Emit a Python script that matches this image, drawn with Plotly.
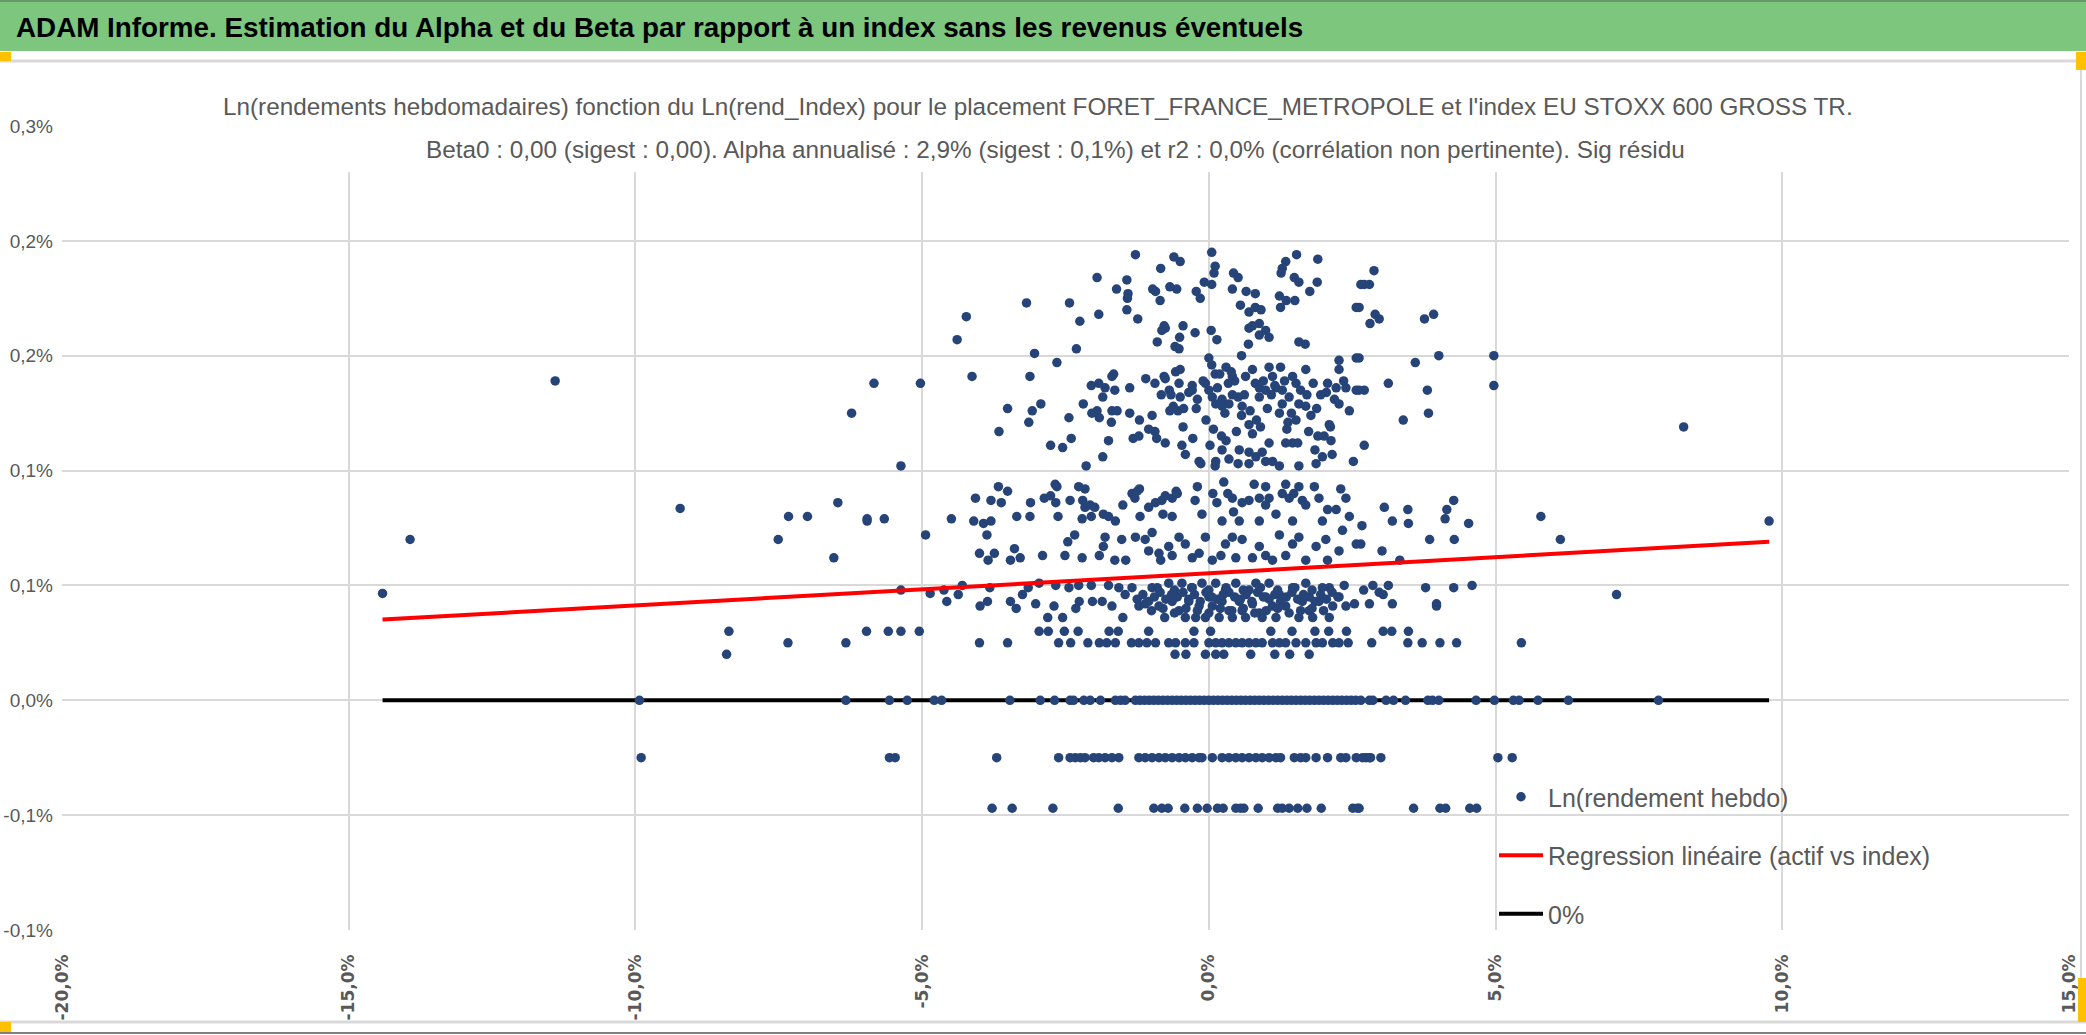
import plotly.graph_objects as go

# ---- data (values in %) ----
# diffuse cloud, upper part (~0.15% - 0.20%)
upper_x = [-1.28, -0.61, -0.50, 0.05, 0.11, 0.09, 1.53, 1.90, 1.34, 1.28, 1.26, -0.84, -1.95, -1.43,
           -1.61, -1.41, -1.42, -0.98, -0.93, -0.68, -0.56, -0.08, 0.05, -0.22, -0.15, 0.41, 0.43,
           0.51, 0.65, 0.81, 1.49, 1.57, 1.89, 1.76, 1.23, 1.35, 1.50, 1.25, 2.57, -0.85, 0.55, 0.70,
           0.81, 0.91, -3.18, -2.43, -2.25, -1.92, -1.43, -1.24, -4.23, -4.39, -3.04, -2.31, -0.78,
           -0.76, -0.82, -0.45, -0.51, -0.24, 0.04, 0.14, -0.90, -0.59, -0.52, 0.70, 0.76, 0.88, 0.99,
           0.88, 1.05, 1.57, 1.68, 0.69, 0.57]
upper_y = [0.194, 0.193, 0.191, 0.195, 0.189, 0.186, 0.194, 0.192, 0.191, 0.188, 0.186, 0.188, 0.184,
           0.183, 0.179, 0.177, 0.175, 0.179, 0.178, 0.180, 0.179, 0.182, 0.181, 0.178, 0.175, 0.179,
           0.186, 0.184, 0.178, 0.177, 0.184, 0.182, 0.182, 0.178, 0.176, 0.174, 0.174, 0.171, 0.171,
           0.174, 0.172, 0.169, 0.171, 0.170, 0.173, 0.173, 0.165, 0.168, 0.170, 0.166, 0.167, 0.157,
           0.151, 0.153, 0.163, 0.162, 0.161, 0.163, 0.158, 0.160, 0.161, 0.157, 0.156, 0.154, 0.153,
           0.162, 0.163, 0.164, 0.161, 0.159, 0.158, 0.156, 0.155, 0.155, 0.150]

# diffuse cloud, middle part (~0.10% - 0.15%)
mid_x = [-4.13, -3.12, -2.65, -3.51, -3.08, -2.93, -3.14, -3.66, -2.76, -2.55, -2.40, -2.44, -2.19,
         -2.14, -1.85, -1.75, -1.70, -2.05, -1.92, -1.81, -1.69, -1.66, -1.85, -1.64, -2.04, -1.95,
         -1.91, -1.69, -1.60, -1.38, -1.38, -1.21, -1.32, -1.22, -0.99, -0.94, -0.91, -0.76, -1.10,
         -0.94, -0.78, -0.76, -0.69, -0.83, -0.66, -0.58, -0.50, -0.52, -0.50, -0.68, -0.54, -0.44,
         -0.29, -0.29, -0.20, -0.28, -0.47, -0.41, -0.17, -0.14, -0.05, 0.00, 0.05, 0.11, -0.06,
         0.00, 0.06, 0.12, 0.02, 0.12, 0.11, 0.22, 0.30, 0.23, 0.19, 0.30, 0.39, 0.41, 0.34, 0.23,
         0.23, 0.35, 0.41, 0.51, 0.58, 0.57, 0.70, 0.76, 0.83, 0.64, 0.76, 0.81, 0.88, 1.05, 1.11,
         1.25, 0.88, 0.99, 1.09, 1.17, 1.28, 1.40, 1.46, 1.52, 1.69, 1.71, 1.57, 1.28, 1.23, 1.38,
         1.52, 1.69, 1.78, 1.95, 2.07, 2.22, 2.39, 2.27, 2.27, 2.57, 2.57, 2.19, 2.27, 2.10, 1.90,
         2.01, 2.13, 1.85, 1.98, 2.15, 1.87, 1.34, 1.46, 1.55, 1.05, 0.35, 0.53, 0.51, 0.70, 0.70,
         0.82, 0.93, 0.99, 1.11, 1.23, 1.57, 2.52, 2.62,
         -0.35, -0.10, 0.15, 0.45, 0.62, 0.95, 1.15, 1.32, 1.60, 1.82, 2.05, 2.35, -0.62, -0.22,
         0.28, 0.72, 1.02, 1.44, 1.88, 2.45, -1.05, -0.45, 0.08, 0.48, 0.90, 1.36, 1.74, 2.12]
mid_y = [0.141, 0.141, 0.147, 0.127, 0.126, 0.129, 0.121, 0.117, 0.111, 0.110, 0.114, 0.123, 0.129,
         0.102, 0.106, 0.113, 0.121, 0.137, 0.138, 0.136, 0.141, 0.142, 0.132, 0.135, 0.125, 0.126,
         0.123, 0.126, 0.126, 0.136, 0.125, 0.122, 0.114, 0.115, 0.124, 0.117, 0.114, 0.112, 0.140,
         0.138, 0.141, 0.140, 0.135, 0.133, 0.133, 0.143, 0.144, 0.138, 0.132, 0.126, 0.126, 0.127,
         0.135, 0.137, 0.131, 0.114, 0.111, 0.107, 0.104, 0.103, 0.122, 0.149, 0.146, 0.142, 0.138,
         0.135, 0.132, 0.129, 0.111, 0.104, 0.102, 0.115, 0.113, 0.109, 0.142, 0.145, 0.143, 0.141,
         0.138, 0.131, 0.128, 0.129, 0.133, 0.132, 0.128, 0.124, 0.120, 0.116, 0.122, 0.141, 0.144,
         0.138, 0.136, 0.145, 0.141, 0.145, 0.132, 0.135, 0.133, 0.136, 0.135, 0.132, 0.141, 0.138,
         0.144, 0.133, 0.129, 0.129, 0.125, 0.121, 0.122, 0.128, 0.124, 0.133, 0.138, 0.136, 0.136,
         0.148, 0.144, 0.149, 0.135, 0.131, 0.129, 0.120, 0.115, 0.115, 0.113, 0.109, 0.106, 0.107,
         0.103, 0.112, 0.112, 0.112, 0.112, 0.105, 0.109, 0.103, 0.108, 0.103, 0.106, 0.108, 0.104,
         0.104, 0.102, 0.102, 0.104, 0.149,
         0.134, 0.139, 0.136, 0.139, 0.133, 0.139, 0.137, 0.139, 0.135, 0.138, 0.134, 0.139, 0.128,
         0.127, 0.125, 0.126, 0.127, 0.125, 0.127, 0.126, 0.118, 0.119, 0.118, 0.117, 0.119, 0.118,
         0.117, 0.119]

# diffuse cloud, lower part (~0.06% - 0.095%)
low_x = [-4.49, -4.10, -4.07, -3.93, -3.80, -3.80, -3.62, -3.67, -3.51, -3.35, -3.11, -3.12, -2.87,
         -2.76, -2.68, -2.65, -2.67, -2.63, -2.42, -2.27, -2.16, -2.20, -2.16, -2.07, -1.99, -2.21,
         -2.05, -1.84, -1.75, -1.63, -1.50, -1.34, -1.25, -1.21, -1.29, -1.20, -1.05, -0.93, -0.82,
         -0.76, -0.64, -0.57, -0.55, -0.80, -0.64, -0.24, -0.20, -0.12, 0.07, 0.14, 0.26, 0.33, 0.41,
         0.43, 0.58, 0.70, 0.79, 0.88, 0.99, 1.05, 0.99, 1.17, 1.28, 1.34, 1.40, 1.48, 1.57, 1.63,
         1.69, 1.84, 1.92, 2.07, 2.22, 2.30, 2.39, 2.45, 1.98, 1.46, 0.88, 0.53, 0.23,
         -3.87, -2.34, -2.46, -1.81, -1.84, -4.00, -3.85, -3.74, -3.46, -3.39, -3.29, -2.90, -2.51,
         -2.21, -1.91, -1.64, -1.45, -1.52, -1.28, -1.11, -0.99, -1.05, -0.87, -0.84, -0.70, -0.64,
         -0.52, -0.41, -0.29, -0.17, -0.06, 0.06, 0.21, 0.29, 0.41, 0.47, 0.58, 0.76, 0.88, 0.99,
         1.11, 1.23, 1.34, 1.46, 1.57, 1.69, 1.87, 2.04, 2.07, 2.27, 2.33, 2.57]
low_y = [0.079, 0.078, 0.088, 0.077, 0.078, 0.087, 0.086, 0.093, 0.091, 0.080, 0.086, 0.080, 0.088,
         0.089, 0.094, 0.093, 0.086, 0.080, 0.087, 0.093, 0.092, 0.087, 0.084, 0.085, 0.084, 0.079,
         0.080, 0.081, 0.080, 0.078, 0.085, 0.090, 0.091, 0.092, 0.088, 0.080, 0.084, 0.086, 0.087,
         0.089, 0.088, 0.091, 0.090, 0.081, 0.080, 0.087, 0.093, 0.081, 0.090, 0.086, 0.095, 0.090,
         0.088, 0.082, 0.086, 0.087, 0.094, 0.088, 0.093, 0.088, 0.085, 0.081, 0.090, 0.094, 0.088,
         0.090, 0.093, 0.087, 0.085, 0.093, 0.088, 0.083, 0.083, 0.092, 0.088, 0.080, 0.078, 0.078,
         0.078, 0.078, 0.078,
         0.072, 0.072, 0.069, 0.071, 0.067, 0.064, 0.061, 0.064, 0.061, 0.066, 0.062, 0.063, 0.063,
         0.062, 0.063, 0.061, 0.061, 0.070, 0.071, 0.070, 0.073, 0.065, 0.064, 0.061, 0.067, 0.063,
         0.071, 0.068, 0.062, 0.064, 0.071, 0.061, 0.063, 0.068, 0.071, 0.062, 0.070, 0.062, 0.067,
         0.063, 0.061, 0.072, 0.063, 0.068, 0.071, 0.061, 0.067, 0.070, 0.061, 0.065, 0.074, 0.068]

# dense cluster (~0.035% - 0.05%)
dense_x = [-4.62, -4.30, -4.57, -4.37, -3.99, -3.86, -3.82, -3.46, -3.36, -3.25, -3.15, -3.02, -2.96,
           -2.70, -2.67, -2.55, -2.81, -2.44, -2.27, -2.32, -2.26, -2.05, -2.03, -1.86, -1.75, -1.69,
           -1.57, -1.50, -1.46, -1.34, -1.22, -1.11, -0.99, -0.87, -0.77, -0.70, -0.64, -0.52, -0.47,
           -0.41, -0.35, -0.29, -0.23, -0.17, -0.12, -0.06, 0.00, 0.06, 0.12, 0.18, 0.23, 0.29, 0.35,
           0.41, 0.47, 0.53, 0.58, 0.64, 0.70, 0.76, 0.82, 0.88, 0.93, 0.99, 1.05, 1.11, 1.17, 1.23,
           1.34, 1.46, 1.57, 1.63, 1.69, 1.75, 1.81, 1.92, 1.98, 2.10, 2.16, 2.27, 2.36, 2.39, 2.54,
           -1.25, -1.15, -1.05, -0.95, -0.85, -0.75, -0.65, -0.55, -0.45, -0.35, -0.25, -0.15, -0.05,
           0.05, 0.15, 0.25, 0.35, 0.45, 0.55, 0.65, 0.75, 0.85, 0.95, 1.05, 1.15, 1.25, 1.35, 1.45,
           1.55, 1.65, 1.75, 1.85, 1.95, 2.05, 2.15, 2.25,
           -1.00, -0.80, -0.60, -0.40, -0.20, 0.00, 0.20, 0.40, 0.60, 0.80, 1.00, 1.20, 1.40, 1.60,
           1.80, 2.00, -0.90, -0.60, -0.30, 0.00, 0.30, 0.60, 0.90, 1.20, 1.50, 1.80, 2.10]
dense_y = [0.048, 0.050, 0.043, 0.046, 0.041, 0.043, 0.049, 0.043, 0.040, 0.046, 0.049, 0.042, 0.051,
           0.041, 0.050, 0.036, 0.036, 0.049, 0.050, 0.040, 0.043, 0.050, 0.043, 0.043, 0.050, 0.041,
           0.049, 0.036, 0.046, 0.049, 0.041, 0.042, 0.049, 0.041, 0.036, 0.051, 0.043, 0.039, 0.051,
           0.036, 0.043, 0.049, 0.036, 0.041, 0.051, 0.036, 0.045, 0.041, 0.051, 0.036, 0.043, 0.048,
           0.039, 0.036, 0.051, 0.043, 0.039, 0.036, 0.048, 0.042, 0.051, 0.038, 0.036, 0.045, 0.051,
           0.041, 0.036, 0.046, 0.041, 0.049, 0.036, 0.043, 0.051, 0.039, 0.036, 0.043, 0.049, 0.036,
           0.041, 0.045, 0.050, 0.041, 0.042,
           0.044, 0.046, 0.043, 0.045, 0.047, 0.044, 0.046, 0.045, 0.047, 0.044, 0.046, 0.043, 0.047,
           0.045, 0.044, 0.046, 0.047, 0.045, 0.044, 0.046, 0.043, 0.047, 0.045, 0.044, 0.046, 0.043,
           0.045, 0.047, 0.044, 0.046, 0.045, 0.043, 0.046, 0.044, 0.047, 0.045,
           0.039, 0.040, 0.038, 0.040, 0.039, 0.038, 0.040, 0.039, 0.040, 0.038, 0.039, 0.040, 0.038,
           0.039, 0.040, 0.039, 0.049, 0.048, 0.049, 0.048, 0.049, 0.048, 0.049, 0.048, 0.049, 0.048,
           0.049]

# scattered points on the left and right of the cloud
side_x = [-11.40, -14.41, -13.93, -9.22, -7.51, -7.33, -7.00, -6.47, -6.54, -6.23, -5.84, -5.03,
          -5.37, -5.96, -5.96, -5.66, -4.94, -5.37, -4.86,
          2.88, 2.71, 2.80, 2.65, 2.62, 2.90, 2.97, 2.81, 3.76, 3.92, 4.97, 4.97, 4.01, 3.60, 3.13,
          2.71, 2.62, 3.81, 3.83, 3.39, 2.71, 8.28, 3.06, 3.47, 4.27, 4.15, 4.12, 3.20, 3.48, 4.53,
          2.67, 5.79, 2.65, 3.85, 4.28, 6.13, 3.02, 3.33, 7.11, 2.70, 2.86, 2.97, 3.04, 3.13, 2.80,
          3.20, 3.78, 3.97, 3.97, 4.27, 4.59, 9.77]
side_y = [0.139, 0.0465, 0.070, 0.0835, 0.070, 0.080, 0.080, 0.086, 0.062, 0.125, 0.138, 0.138,
          0.102, 0.079, 0.078, 0.079, 0.072, 0.048, 0.0465,
          0.187, 0.181, 0.181, 0.181, 0.171, 0.168, 0.166, 0.164, 0.166, 0.168, 0.150, 0.137, 0.150,
          0.147, 0.138, 0.135, 0.135, 0.135, 0.125, 0.122, 0.111, 0.119, 0.084, 0.083, 0.087, 0.083,
          0.079, 0.078, 0.077, 0.077, 0.076, 0.080, 0.068, 0.070, 0.070, 0.070, 0.065, 0.061, 0.046,
          0.048, 0.050, 0.047, 0.046, 0.050, 0.042, 0.042, 0.049, 0.042, 0.041, 0.049, 0.050, 0.078]

# horizontal bands of repeated weekly returns
band_030_x = [-8.37, -5.97, -5.59, -5.37, -5.05, -2.96, -2.80, -2.52, -2.28, -1.74, -1.58, -1.05,
              -0.26, 0.03, 1.08, 1.45, 1.85, 2.09, 2.40, 3.04, 3.19, 3.48]
band_025_x = [-7.34, -6.33, -4.00, -3.51, -2.62, -2.41, -2.11, -1.91, -1.78, -1.63, -1.35, -1.22,
              -1.08, -0.93, -0.70, -0.58, -0.41, -0.26, 0.00, 0.12, 0.23, 0.35, 0.47, 0.58, 0.70,
              0.82, 0.93, 1.11, 1.23, 1.34, 1.52, 1.69, 1.87, 1.98, 2.16, 2.27, 2.43, 2.84, 3.47,
              3.72, 4.03, 4.32, 5.45]
band_020_x = [-8.41, -0.59, -0.40, -0.06, 0.12, 0.26, 0.73, 1.15, 1.41, 1.75]
band_000_x = [-9.93, -6.33, -5.57, -5.26, -4.79, -4.66, -3.47, -2.94, -2.69, -2.42, -2.36, -2.18,
              -2.07, -1.89, -1.63, -1.54, -1.46, -1.28, -1.20, -1.12, -1.04, -0.96, -0.88, -0.80,
              -0.72, -0.64, -0.56, -0.48, -0.40, -0.32, -0.24, -0.16, -0.08, 0.00, 0.08, 0.16, 0.24,
              0.32, 0.40, 0.48, 0.56, 0.64, 0.72, 0.80, 0.88, 0.96, 1.04, 1.12, 1.20, 1.28, 1.36,
              1.44, 1.52, 1.60, 1.68, 1.76, 1.84, 1.92, 2.00, 2.08, 2.16, 2.24, 2.32, 2.40, 2.48,
              2.56, 2.65, 2.80, 2.86, 3.09, 3.22, 3.43, 3.82, 3.90, 4.01, 4.66, 4.98, 5.31, 5.41,
              5.74, 6.27, 7.84]
band_m025_x = [-9.90, -5.57, -5.47, -3.70, -2.62, -2.42, -2.33, -2.24, -2.16, -2.01, -1.92, -1.81,
               -1.69, -1.57, -1.22, -1.11, -0.99, -0.87, -0.76, -0.64, -0.52, -0.41, -0.29, -0.17,
               -0.12, 0.06, 0.23, 0.35, 0.47, 0.58, 0.70, 0.82, 0.93, 1.05, 1.17, 1.25, 1.49, 1.60,
               1.69, 1.87, 2.07, 2.30, 2.39, 2.57, 2.68, 2.74, 2.80, 2.82, 3.00, 5.04, 5.29]
band_m047_x = [-3.78, -3.43, -2.72, -1.58, -0.96, -0.82, -0.71, -0.42, -0.20, -0.03, 0.15, 0.25,
               0.47, 0.55, 0.61, 0.86, 1.20, 1.28, 1.40, 1.55, 1.71, 1.96, 2.51, 2.59, 2.62, 3.57,
               4.03, 4.13, 4.55, 4.67]
band_levels = [0.030, 0.025, 0.020, 0.0, -0.025, -0.047]

# regression (weekly alpha in %, beta)
alpha_week = 0.0553
beta = 0.0014

x_ticks = [-20, -15, -10, -5, 0, 5, 10, 15]
x_tick_text = ["-20,0%", "-15,0%", "-10,0%", "-5,0%", "0,0%", "5,0%", "10,0%", "15,0%"]
y_ticks = [-0.10, -0.05, 0.0, 0.05, 0.10, 0.15, 0.20, 0.25]
y_tick_text = ["-0,1%", "-0,1%", "0,0%", "0,1%", "0,1%", "0,2%", "0,2%", "0,3%"]

title = "ADAM Informe. Estimation du Alpha et du Beta par rapport à un index sans les revenus éventuels"
subtitle1 = ("Ln(rendements hebdomadaires) fonction du Ln(rend_Index) pour le placement "
             "FORET_FRANCE_METROPOLE et l'index EU STOXX 600 GROSS TR.")
subtitle2 = ("Beta0 : 0,00 (sigest : 0,00). Alpha annualisé : 2,9% (sigest : 0,1%) et r2 : 0,0% "
             "(corrélation non pertinente). Sig résidu")

# ---- assemble points ----
bands = [band_030_x, band_025_x, band_020_x, band_000_x, band_m025_x, band_m047_x]
all_x = upper_x + mid_x + low_x + dense_x + side_x
all_y = upper_y + mid_y + low_y + dense_y + side_y
for bx, level in zip(bands, band_levels):
    all_x += bx
    all_y += [level] * len(bx)

x_min, x_max = min(all_x), max(all_x)
reg_y = [alpha_week + beta * x_min, alpha_week + beta * x_max]

W, H = 2086, 1035
L, R, T, B = 62, 2069, 126, 930


def px(p):
    return (p - L) / (R - L)


def py(p):
    return (B - p) / (B - T)


FONT = "Liberation Sans, Arial, sans-serif"
GRAY = "#595959"

fig = go.Figure()

fig.add_trace(go.Scatter(
    x=[x_min, x_max], y=[0, 0], mode="lines", name="0%",
    line=dict(color="black", width=4), legendgroup="c", legendrank=3))

fig.add_trace(go.Scatter(
    x=all_x, y=all_y, mode="markers", name="Ln(rendement hebdo)",
    marker=dict(color="#264478", size=9.5, line=dict(width=0)),
    legendgroup="a", legendrank=1))

fig.add_trace(go.Scatter(
    x=[x_min, x_max], y=reg_y, mode="lines", name="Regression linéaire (actif vs index)",
    line=dict(color="#FF0000", width=4), legendgroup="b", legendrank=2))

shapes = [
    # green banner
    dict(type="rect", xref="paper", yref="paper", x0=px(0), x1=px(W), y0=py(51), y1=py(0),
         fillcolor="#7DC67D", line=dict(width=0), layer="above"),
    dict(type="line", xref="paper", yref="paper", x0=px(0), x1=px(W), y0=py(1), y1=py(1),
         line=dict(color="#6a9a6a", width=2)),
    dict(type="line", xref="paper", yref="paper", x0=px(0), x1=px(W), y0=py(61), y1=py(61),
         line=dict(color="#D9D9D9", width=3)),
    # white box behind the chart title
    dict(type="rect", xref="paper", yref="paper", x0=px(225), x1=px(1858), y0=py(172), y1=py(66),
         fillcolor="white", line=dict(width=0), layer="above"),
    # frame
    dict(type="line", xref="paper", yref="paper", x0=px(2081), x1=px(2081), y0=py(62), y1=py(1022),
         line=dict(color="#D9D9D9", width=2)),
    dict(type="line", xref="paper", yref="paper", x0=px(0), x1=px(W), y0=py(1022), y1=py(1022),
         line=dict(color="#D9D9D9", width=3)),
    dict(type="line", xref="paper", yref="paper", x0=px(0), x1=px(W), y0=py(1033), y1=py(1033),
         line=dict(color="#808080", width=2)),
    # selection handles
    dict(type="rect", xref="paper", yref="paper", x0=px(0), x1=px(11), y0=py(61), y1=py(52),
         fillcolor="#FFC000", line=dict(width=0), layer="above"),
    dict(type="rect", xref="paper", yref="paper", x0=px(2076), x1=px(W), y0=py(70), y1=py(52),
         fillcolor="#FFC000", line=dict(width=0), layer="above"),
    dict(type="rect", xref="paper", yref="paper", x0=px(0), x1=px(11), y0=py(1032), y1=py(1022),
         fillcolor="#FFC000", line=dict(width=0), layer="above"),
    dict(type="rect", xref="paper", yref="paper", x0=px(2078), x1=px(W), y0=py(1022), y1=py(978),
         fillcolor="#FFC000", line=dict(width=0), layer="above"),
]

annotations = [
    dict(text=title, xref="paper", yref="paper", x=px(14), y=py(27), xanchor="left",
         yanchor="middle", showarrow=False,
         font=dict(family=FONT, size=27.8, color="black", weight="bold")),
    dict(text=subtitle1, xref="paper", yref="paper", x=px(1038), y=py(106), xanchor="center",
         yanchor="middle", showarrow=False, font=dict(family=FONT, size=24.3, color=GRAY)),
    dict(text=subtitle2, xref="paper", yref="paper", x=px(1055), y=py(150), xanchor="center",
         yanchor="middle", showarrow=False, font=dict(family=FONT, size=24.3, color=GRAY)),
]

fig.update_layout(
    width=W, height=H,
    margin=dict(l=L, r=W - R, t=T, b=H - B, autoexpand=False),
    paper_bgcolor="white", plot_bgcolor="white",
    shapes=shapes, annotations=annotations,
    showlegend=True,
    legend=dict(x=px(1494), y=py(774), xanchor="left", yanchor="top",
                bgcolor="rgba(0,0,0,0)", font=dict(family=FONT, size=25, color=GRAY),
                tracegroupgap=23, itemwidth=44),
    hovermode=False,
)

fig.update_xaxes(
    range=[-20, 15], tickvals=x_ticks, ticktext=x_tick_text, tickangle=-90,
    tickfont=dict(family="DejaVu Sans, sans-serif", size=17, color=GRAY, weight="bold"),
    showgrid=True, gridcolor="#D9D9D9", gridwidth=1.5, zeroline=False, showline=False,
    ticks="", ticklabelstandoff=20, automargin=False,
)
fig.update_yaxes(
    range=[-0.10, 0.25], tickvals=y_ticks, ticktext=y_tick_text,
    tickfont=dict(family=FONT, size=19, color=GRAY),
    showgrid=True, gridcolor="#D9D9D9", gridwidth=1.5, zeroline=False, showline=False,
    ticks="", ticklabelstandoff=8, automargin=False,
)

# the page is photographed edge to edge: drop the default body margin
fig.write_html("out.html", config={"displayModeBar": False},
               post_script="document.body.style.margin='0px';"
                           "document.body.style.overflow='hidden';")
